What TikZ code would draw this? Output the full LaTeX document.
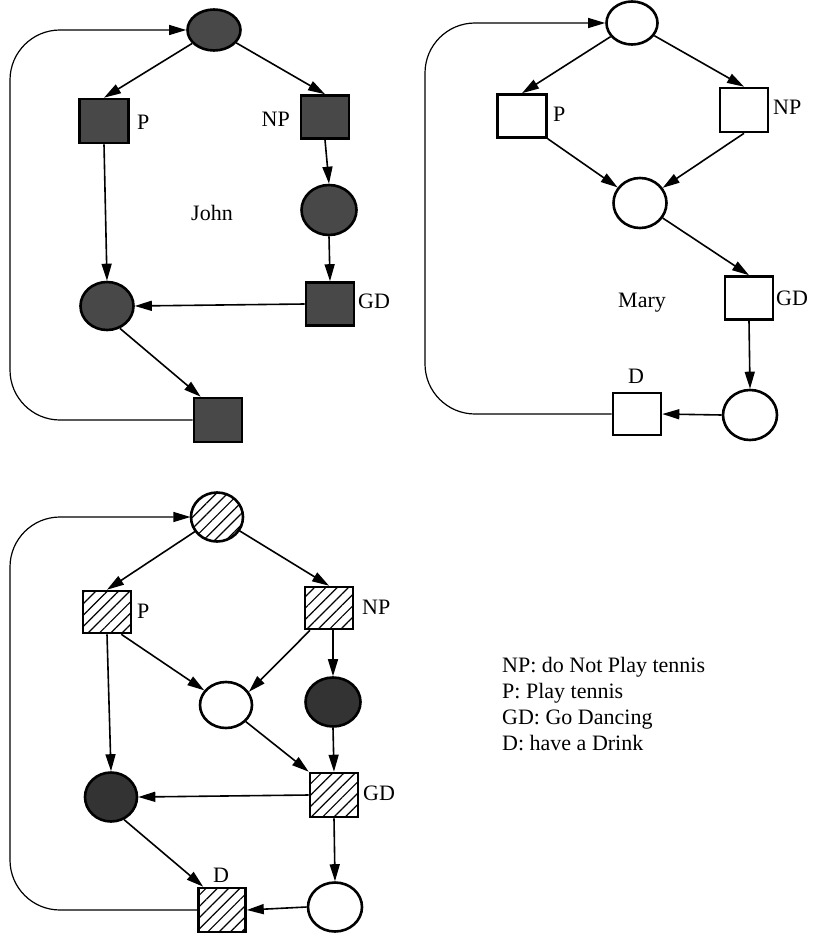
\documentclass[tikz,border=0pt]{standalone}
\usepackage{fontspec}
\setmainfont{Liberation Serif}
\usetikzlibrary{shapes.geometric,arrows.meta,patterns.meta,calc}
\definecolor{jgray}{HTML}{484848}
\definecolor{tgray}{HTML}{333333}
\begin{document}
\begin{tikzpicture}[x=1pt,y=-1pt,
  place/.style={ellipse,draw,line width=2.6pt,inner sep=0pt,minimum width=53pt,minimum height=48pt},
  trans/.style={rectangle,draw,line width=2.6pt,inner sep=0pt,minimum width=48pt,minimum height=43pt},
  dk/.style={fill=jgray},
  dktwo/.style={fill=tgray},
  hatch/.style={pattern={Lines[angle=45,distance=8pt,line width=1.2pt]}},
  arr/.style={-{Triangle[length=17pt,width=10pt]},line width=1.6pt},
  backarc/.style={-{Triangle[length=17pt,width=10pt]},line width=1.2pt,rounded corners=50pt},
  lbl/.style={font=\fontsize{22}{26}\selectfont,inner sep=0pt,anchor=base west},
]
\useasboundingbox (0,0) rectangle (815,936);

% ---------------- John ----------------
\node[place,dk,minimum width=53pt,minimum height=41pt] (Jt) at (214,30) {};
\node[trans,dk,minimum width=49pt,minimum height=44pt] (JP) at (104,121) {};
\node[trans,dk] (JNP) at (325,117) {};
\node[place,dk,minimum width=55pt,minimum height=50pt] (Jc) at (329,210) {};
\node[trans,dk] (JGD) at (330,304) {};
\node[place,dk] (Jl) at (107,306) {};
\node[trans,dk,minimum height=44pt] (JD) at (218,420) {};

\node[lbl] (JPl) at (137,130) {P};
\node[lbl,anchor=base east] (JNPl) at (290,127) {NP};
\node[lbl] (JGDl) at (358,308) {GD};
\node[lbl] (Jname) at (191,220) {John};

\draw[arr] (Jt) -- (JP.north);
\draw[arr] (Jt) -- (JNP.north);
\draw[arr] (JP.south) -- (Jl.north);
\draw[arr] (JNP.south) -- (Jc.north);
\draw[arr] (Jc.south) -- (JGD.north);
\draw[arr] (JGD.west) -- (Jl.east);
\draw[arr] (Jl.-60) -- ($(JD.north west)+(8,0)$);
\draw[backarc] (JD.west) -| (10,200) |- (Jt.west);

% ---------------- Mary ----------------
\node[place,minimum width=51pt,minimum height=43pt] (Mt) at (632,23) {};
\node[trans,minimum width=49pt] (MP) at (522,116) {};
\node[trans,minimum height=44pt] (MNP) at (744,110) {};
\node[place,minimum height=50pt] (Mm) at (640,203) {};
\node[trans] (MGD) at (749,298) {};
\node[place,minimum width=54pt,minimum height=50pt] (Mr) at (750,415) {};
\node[trans,minimum height=42pt] (MD) at (637,414) {};

\node[lbl] (MPl) at (553,122) {P};
\node[lbl] (MNPl) at (773,115) {NP};
\node[lbl] (MGDl) at (776,305) {GD};
\node[lbl] (MDl) at (628,383) {D};
\node[lbl] (Mname) at (618,307) {Mary};

\draw[arr] (Mt) -- (MP.north);
\draw[arr] (Mt) -- (MNP.north);
\draw[arr] (MP.south east) -- (Mm);
\draw[arr] (MNP.south) -- (Mm);
\draw[arr] (Mm) -- (MGD.north);
\draw[arr] (MGD.south) -- (Mr.north);
\draw[arr] (Mr.west) -- (MD.east);
\draw[backarc] (MD.west) -| (425,200) |- (Mt.west);

% ---------------- combined ----------------
\node[place,hatch,minimum width=52pt,minimum height=49pt] (Tt) at (217,517) {};
\node[trans,hatch,minimum height=42pt] (TP) at (107,612) {};
\node[trans,hatch,minimum height=42pt] (TNP) at (329,608) {};
\node[place,minimum width=52pt,minimum height=46pt] (Tm) at (226,705) {};
\node[place,dktwo,minimum width=55pt,minimum height=49pt] (Tr) at (333,702) {};
\node[trans,hatch,minimum height=44pt] (TGD) at (334,795) {};
\node[place,dktwo,minimum width=52pt,minimum height=49pt] (Tl) at (111,797) {};
\node[trans,hatch,minimum width=47pt,minimum height=44pt] (TD) at (222,910) {};
\node[place,minimum width=54pt,minimum height=49pt] (Tb) at (335,907) {};

\node[lbl] (TPl) at (137,618) {P};
\node[lbl] (TNPl) at (362,614) {NP};
\node[lbl] (TGDl) at (363,800) {GD};
\node[lbl] (TDl) at (213,882) {D};

\draw[arr] (Tt) -- (TP.north);
\draw[arr] (Tt) -- (TNP.north);
\draw[arr] ($(TP.south east)+(-11,0)$) -- (Tm);
\draw[arr] ($(TNP.south)+(-19,0)$) -- (Tm.30);
\draw[arr] (Tr.north |- TNP.south) -- (Tr.north);
\draw[arr] (TP.south) -- (Tl.north);
\draw[arr] (Tm.-40) -- (TGD.north west);
\draw[arr] (Tr.south) -- (TGD.north);
\draw[arr] (TGD.west) -- (Tl.east);
\draw[arr] (Tl.-60) -- ($(TD.north west)+(6,0)$);
\draw[arr] (TGD.south) -- (Tb.north);
\draw[arr] (Tb.west) -- (TD.east);
\draw[backarc] (TD.west) -| (10,700) |- (Tt.west);

% ---------------- legend ----------------
\node[lbl] (L1) at (502,672) {NP: do Not Play tennis};
\node[lbl] (L2) at (502,698) {P: Play tennis};
\node[lbl] (L3) at (502,724) {GD: Go Dancing};
\node[lbl] (L4) at (502,750) {D: have a Drink};
\end{tikzpicture}
\end{document}
